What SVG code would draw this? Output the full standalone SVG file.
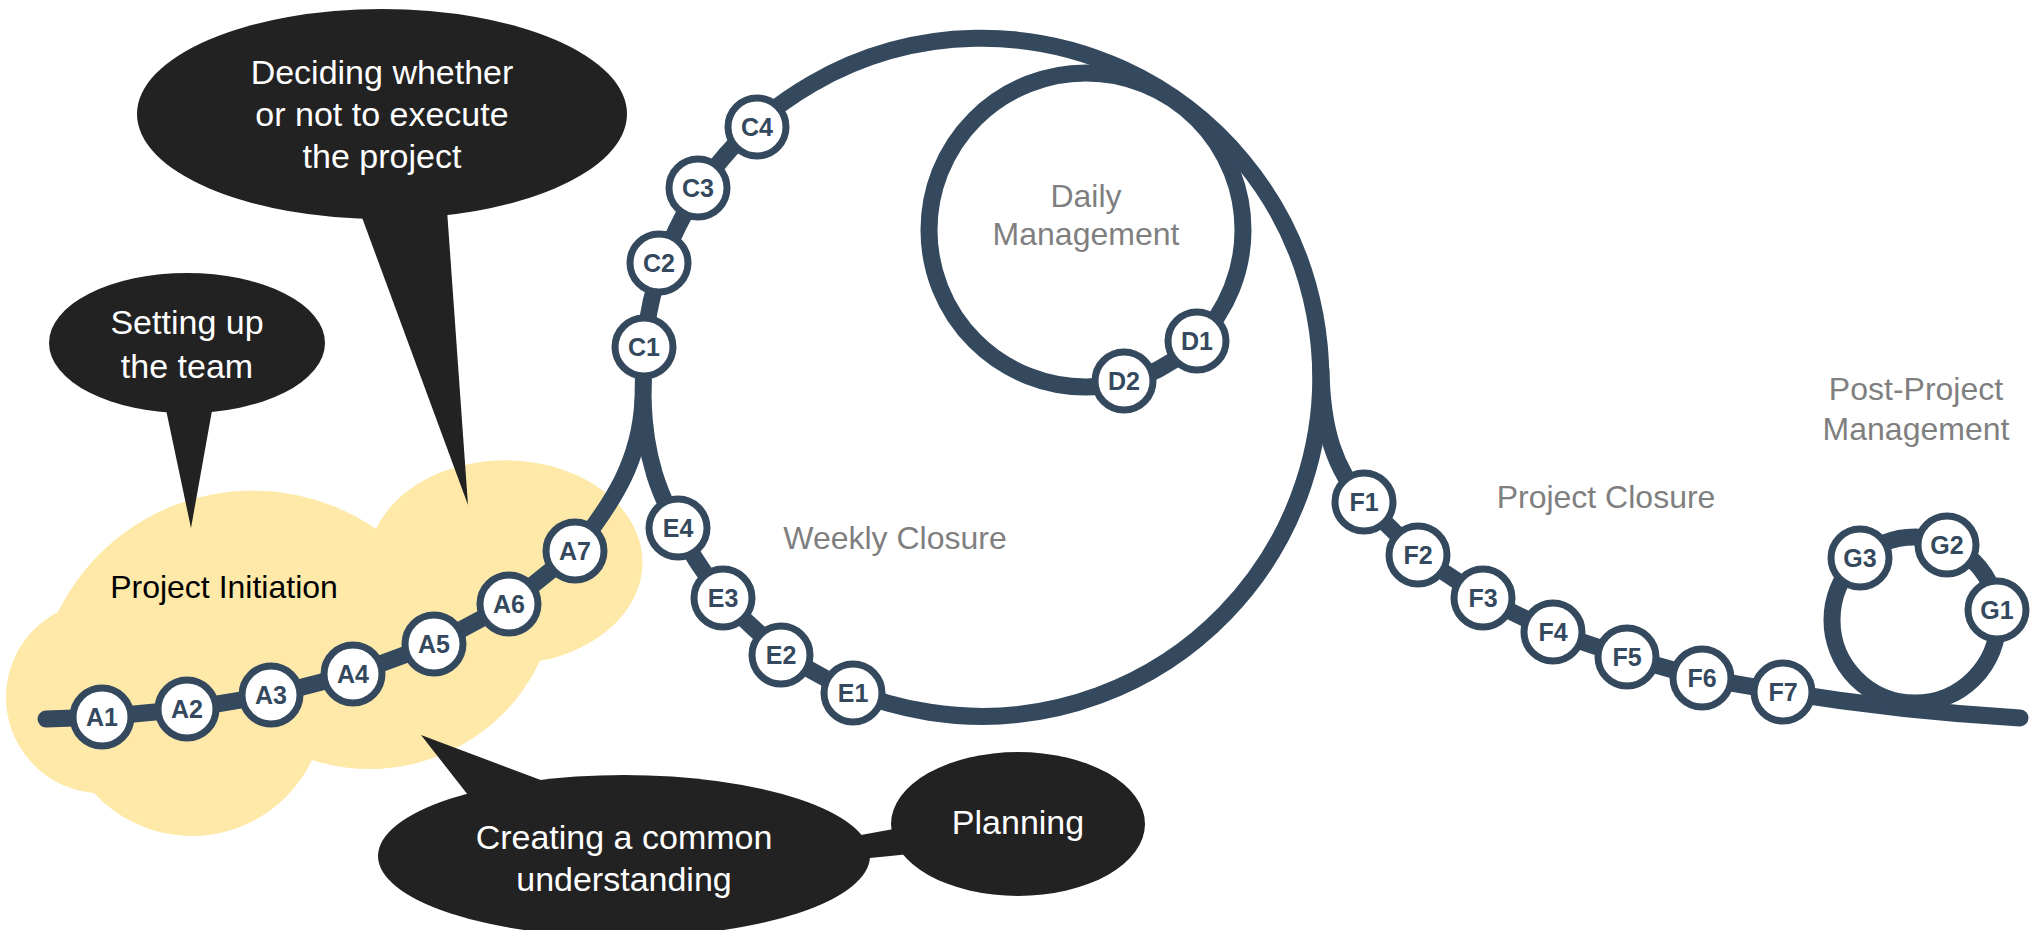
<svg xmlns="http://www.w3.org/2000/svg" width="2034" height="930" viewBox="0 0 2034 930">
<style>
.trk{fill:none;stroke:#34495e;stroke-width:17;stroke-linecap:round;stroke-linejoin:round}
.nd circle{fill:#fff;stroke:#34495e;stroke-width:7}
.nd text{font-family:"Liberation Sans",Arial,sans-serif;font-weight:bold;font-size:25px;fill:#34495e;text-anchor:middle}
.gl{font-family:"Liberation Sans",Arial,sans-serif;font-size:32px;fill:#7f7f7f;text-anchor:middle}
.bub{fill:#222}
.bt{font-family:"Liberation Sans",Arial,sans-serif;font-size:34px;fill:#fff;text-anchor:middle}
</style>
<rect width="2034" height="930" fill="#fff"/>
<g id="cloud">
<path d="M58 612 A217 217 0 0 1 376 529 A137 102 0 1 1 540 661 A188 188 0 0 1 312 760 A133 133 0 0 1 94 793 A96 96 0 0 1 58 612 Z" fill="#fee9a8"/>
<text x="224" y="598" font-family="Liberation Sans,Arial,sans-serif" font-size="32" fill="#000" text-anchor="middle">Project Initiation</text>
</g>
<g id="callout-deciding">
<ellipse class="bub" cx="382" cy="114" rx="245" ry="105"/>
<polygon class="bub" points="360,212 447,210 468,505"/>
<text class="bt" x="382" y="84">Deciding whether</text>
<text class="bt" x="382" y="126">or not to execute</text>
<text class="bt" x="382" y="168">the project</text>
</g>
<g id="callout-team">
<ellipse class="bub" cx="187" cy="343" rx="138" ry="70"/>
<polygon class="bub" points="165,405 213,405 191,528"/>
<text class="bt" x="187" y="334">Setting up</text>
<text class="bt" x="187" y="378">the team</text>
</g>
<g id="callout-common">
<ellipse class="bub" cx="624" cy="856" rx="246" ry="81"/>
<polygon class="bub" points="468,795 546,782 421,735"/>
<polygon class="bub" points="850,837 910,826 910,854 850,860"/>
<text class="bt" x="624" y="849">Creating a common</text>
<text class="bt" x="624" y="891">understanding</text>
</g>
<g id="callout-planning">
<ellipse class="bub" cx="1018" cy="824" rx="127" ry="72"/>
<text class="bt" x="1018" y="834">Planning</text>
</g>
<g id="connectors">
<path class="trk" d="M46 719 L102 717 L187 709 L271 695 L353 674 L434 644 L509 604 L575 551 C615 500 640 460 643 400 L644 347"/>
<path class="trk" d="M644 347 A339 339 0 1 1 678 528"/>
<path class="trk" d="M678 528 C660 495 645 460 643 400"/>
<circle class="trk" cx="1086" cy="230" r="157"/>
<path class="trk" d="M1321 370 C1322 430 1335 470 1364 502 L1418 555 L1483 598 L1553 632 L1627 657 L1702 678 L1783 692 Q1900 711 2020 718"/>
<circle class="trk" cx="1915" cy="620" r="83"/>
</g>
<text class="gl" x="1086" y="207">Daily</text>
<text class="gl" x="1086" y="245">Management</text>
<text class="gl" x="895" y="549">Weekly Closure</text>
<text class="gl" x="1606" y="508">Project Closure</text>
<text class="gl" x="1916" y="400">Post-Project</text>
<text class="gl" x="1916" y="440">Management</text>
<g id="A1" class="nd"><circle cx="102" cy="717" r="29"/><text x="102" y="726">A1</text></g>
<g id="A2" class="nd"><circle cx="187" cy="709" r="29"/><text x="187" y="718">A2</text></g>
<g id="A3" class="nd"><circle cx="271" cy="695" r="29"/><text x="271" y="704">A3</text></g>
<g id="A4" class="nd"><circle cx="353" cy="674" r="29"/><text x="353" y="683">A4</text></g>
<g id="A5" class="nd"><circle cx="434" cy="644" r="29"/><text x="434" y="653">A5</text></g>
<g id="A6" class="nd"><circle cx="509" cy="604" r="29"/><text x="509" y="613">A6</text></g>
<g id="A7" class="nd"><circle cx="575" cy="551" r="29"/><text x="575" y="560">A7</text></g>
<g id="C1" class="nd"><circle cx="644" cy="347" r="29"/><text x="644" y="356">C1</text></g>
<g id="C2" class="nd"><circle cx="659" cy="263" r="29"/><text x="659" y="272">C2</text></g>
<g id="C3" class="nd"><circle cx="698" cy="188" r="29"/><text x="698" y="197">C3</text></g>
<g id="C4" class="nd"><circle cx="757" cy="127" r="29"/><text x="757" y="136">C4</text></g>
<g id="D1" class="nd"><circle cx="1197" cy="341" r="29"/><text x="1197" y="350">D1</text></g>
<g id="D2" class="nd"><circle cx="1124" cy="381" r="29"/><text x="1124" y="390">D2</text></g>
<g id="E1" class="nd"><circle cx="853" cy="693" r="29"/><text x="853" y="702">E1</text></g>
<g id="E2" class="nd"><circle cx="781" cy="655" r="29"/><text x="781" y="664">E2</text></g>
<g id="E3" class="nd"><circle cx="723" cy="598" r="29"/><text x="723" y="607">E3</text></g>
<g id="E4" class="nd"><circle cx="678" cy="528" r="29"/><text x="678" y="537">E4</text></g>
<g id="F1" class="nd"><circle cx="1364" cy="502" r="29"/><text x="1364" y="511">F1</text></g>
<g id="F2" class="nd"><circle cx="1418" cy="555" r="29"/><text x="1418" y="564">F2</text></g>
<g id="F3" class="nd"><circle cx="1483" cy="598" r="29"/><text x="1483" y="607">F3</text></g>
<g id="F4" class="nd"><circle cx="1553" cy="632" r="29"/><text x="1553" y="641">F4</text></g>
<g id="F5" class="nd"><circle cx="1627" cy="657" r="29"/><text x="1627" y="666">F5</text></g>
<g id="F6" class="nd"><circle cx="1702" cy="678" r="29"/><text x="1702" y="687">F6</text></g>
<g id="F7" class="nd"><circle cx="1783" cy="692" r="29"/><text x="1783" y="701">F7</text></g>
<g id="G1" class="nd"><circle cx="1997" cy="610" r="29"/><text x="1997" y="619">G1</text></g>
<g id="G2" class="nd"><circle cx="1947" cy="545" r="29"/><text x="1947" y="554">G2</text></g>
<g id="G3" class="nd"><circle cx="1860" cy="558" r="29"/><text x="1860" y="567">G3</text></g>
</svg>
